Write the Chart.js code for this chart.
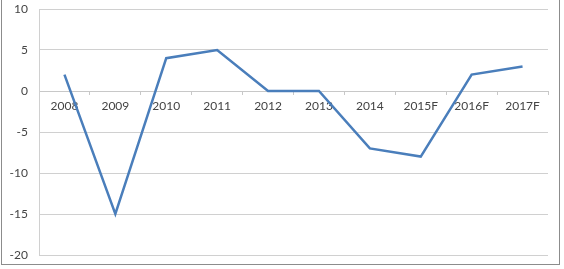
<!DOCTYPE html>
<html>
<head>
<meta charset="utf-8">
<script src="https://cdn.jsdelivr.net/npm/chart.js"></script>
<style>
  body { margin: 0; background: #fff; }
  #wrap { position: relative; width: 564px; height: 269px; overflow: hidden; }
  #frame { position: absolute; left: 1px; top: -4px; width: 559px; height: 269px; border: 1px solid #8c8c8c; box-sizing: border-box; }
  canvas { position: absolute; left: 0; top: 0; }
</style>
</head>
<body>
<div id="wrap">
  <canvas id="myChart" width="564" height="269"></canvas>
  <div id="frame"></div>
</div>
<script>
  // chart data
  const years = ['2008', '2009', '2010', '2011', '2012', '2013', '2014', '2015F', '2016F', '2017F'];
  const growth = [2, -15, 4, 5, 0, 0, -7, -8, 2, 3];
  const yTicks = [10, 5, 0, -5, -10, -15, -20];

  const ctx = document.getElementById('myChart');

  // drop the label padding so the layout padding alone sets the plot box
  const noPad = s => { s.paddingTop = 0; s.paddingBottom = 0; s.paddingLeft = 0; s.paddingRight = 0; };

  new Chart(ctx, {
    type: 'line',
    data: {
      labels: years,
      datasets: [{
        data: growth,
        borderColor: '#4a7ebb',
        borderWidth: 2.5,
        pointRadius: 0,
        tension: 0
      }]
    },
    options: {
      responsive: false,
      animation: false,
      layout: { padding: { top: 9, bottom: 14, right: 16, left: 0 } },
      plugins: { legend: { display: false }, tooltip: { enabled: false } },
      scales: {
        x: {
          position: { y: 0 },
          offset: true,
          grid: { display: true, drawOnChartArea: false, offset: true, tickLength: 3, color: '#c8c8c8' },
          border: { display: true, color: '#c8c8c8' },
          ticks: { padding: 5, color: '#444', font: { family: 'Lato', size: 12 }, maxRotation: 0, autoSkip: false },
          afterFit: s => { s.height = 0; noPad(s); }
        },
        y: {
          min: -20,
          max: 10,
          afterBuildTicks: s => { s.ticks = yTicks.map(v => ({ value: v })); },
          afterFit: s => { s.width = 39; noPad(s); },
          grid: { color: '#d0d0d0', drawTicks: false },
          border: { display: true, color: '#d0d0d0' },
          ticks: { padding: 11, color: '#444', font: { family: 'Lato', size: 12 } }
        }
      }
    }
  });
</script>
</body>
</html>
